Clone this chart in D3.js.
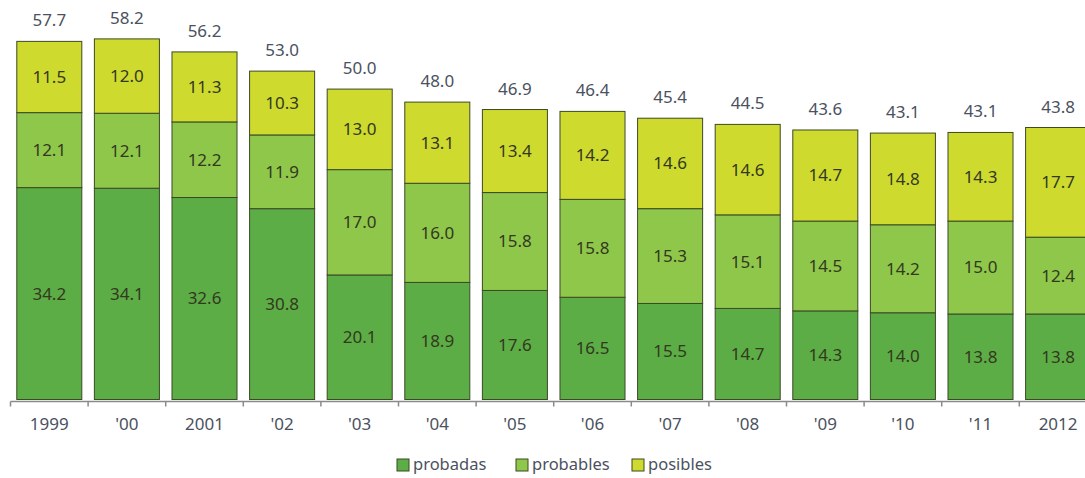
<!DOCTYPE html>
<html>
<head>
<meta charset="utf-8">
<script src="https://cdn.jsdelivr.net/npm/d3@7"></script>
<style>
  html, body { margin: 0; padding: 0; background: #fff; }
  svg { display: block; font-family: "Noto Sans", "Open Sans", sans-serif; }
  .seg-label { font-size: 17px; fill: #33381f; }
  .total-label { font-size: 17px; fill: #4b5160; }
  .x-label { font-size: 17px; fill: #4b5160; }
  .legend-label { font-size: 16.5px; fill: #4b5160; }
</style>
</head>
<body>
<svg id="chart" width="1085" height="478"></svg>
<script>
const years = ["1999", "'00", "2001", "'02", "'03", "'04", "'05", "'06", "'07", "'08", "'09", "'10", "'11", "2012"];
const probadas = [34.2, 34.1, 32.6, 30.8, 20.1, 18.9, 17.6, 16.5, 15.5, 14.7, 14.3, 14.0, 13.8, 13.8];
const probables = [12.1, 12.1, 12.2, 11.9, 17.0, 16.0, 15.8, 15.8, 15.3, 15.1, 14.5, 14.2, 15.0, 12.4];
const posibles = [11.5, 12.0, 11.3, 10.3, 13.0, 13.1, 13.4, 14.2, 14.6, 14.6, 14.7, 14.8, 14.3, 17.7];
const totals = [57.7, 58.2, 56.2, 53.0, 50.0, 48.0, 46.9, 46.4, 45.4, 44.5, 43.6, 43.1, 43.1, 43.8];

const seriesNames = ["probadas", "probables", "posibles"];
const colors = { probadas: "#5cad45", probables: "#8fc74b", posibles: "#cfda2f" };

const rows = years.map((year, i) => ({
  year,
  probadas: probadas[i],
  probables: probables[i],
  posibles: posibles[i],
  total: totals[i]
}));

const svg = d3.select("#chart");
const baseline = 399.5;
const step = 77.6;
const left = 10.5;

const x = d3.scaleBand()
  .domain(years)
  .range([left, left + step * years.length])
  .paddingInner(0.162)
  .paddingOuter(0.081);

const y = d3.scaleLinear().domain([0, 57.7]).range([baseline, 42]);

const stacked = d3.stack().keys(seriesNames)(rows);

const layers = svg.append("g")
  .selectAll("g")
  .data(stacked)
  .join("g")
  .attr("fill", (layer) => colors[layer.key]);

layers.selectAll("rect")
  .data((layer) => layer)
  .join("rect")
  .attr("x", (d) => x(d.data.year))
  .attr("y", (d) => y(d[1]))
  .attr("width", x.bandwidth())
  .attr("height", (d) => y(d[0]) - y(d[1]))
  .attr("stroke", "#3b4a25")
  .attr("stroke-width", 1);

layers.selectAll("text")
  .data((layer) => layer.map((d) => ({ d, key: layer.key })))
  .join("text")
  .attr("class", "seg-label")
  .attr("x", (o) => x(o.d.data.year) + x.bandwidth() / 2)
  .attr("y", (o) => (y(o.d[0]) + y(o.d[1])) / 2)
  .attr("dy", "0.35em")
  .attr("text-anchor", "middle")
  .text((o) => o.d.data[o.key].toFixed(1));

svg.append("g")
  .selectAll("text")
  .data(stacked[2])
  .join("text")
  .attr("class", "total-label")
  .attr("x", (d) => x(d.data.year) + x.bandwidth() / 2)
  .attr("y", (d) => y(d[1]) - 15)
  .attr("text-anchor", "middle")
  .text((d) => d.data.total.toFixed(1));

// axis: line along the baseline, ticks between bars
const axis = svg.append("g");
axis.append("line")
  .attr("x1", left)
  .attr("x2", 1085)
  .attr("y1", baseline + 2)
  .attr("y2", baseline + 2)
  .attr("stroke", "#8a8a8a")
  .attr("stroke-width", 1.5);

axis.selectAll("line.tick")
  .data(years)
  .join("line")
  .attr("class", "tick")
  .attr("x1", (d) => x(d) - x.step() * x.paddingInner() / 2)
  .attr("x2", (d) => x(d) - x.step() * x.paddingInner() / 2)
  .attr("y1", baseline + 2)
  .attr("y2", baseline + 7)
  .attr("stroke", "#8a8a8a")
  .attr("stroke-width", 1.5);

axis.selectAll("text")
  .data(years)
  .join("text")
  .attr("class", "x-label")
  .attr("x", (d) => x(d) + x.bandwidth() / 2)
  .attr("y", 430)
  .attr("text-anchor", "middle")
  .text((d) => d);

// legend
const legendX = [397, 516, 632];
const legend = svg.append("g")
  .selectAll("g")
  .data(seriesNames)
  .join("g")
  .attr("transform", (d, i) => `translate(${legendX[i]}, 459)`);

legend.append("rect")
  .attr("width", 12)
  .attr("height", 12)
  .attr("fill", (d) => colors[d])
  .attr("stroke", "#3b4a25")
  .attr("stroke-width", 1);

legend.append("text")
  .attr("class", "legend-label")
  .attr("x", 16)
  .attr("y", 11)
  .text((d) => d);
</script>
</body>
</html>
